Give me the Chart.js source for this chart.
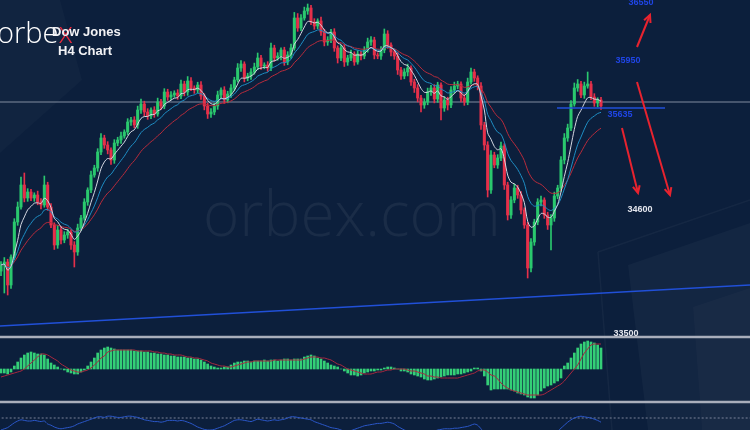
<!DOCTYPE html>
<html>
<head>
<meta charset="utf-8">
<script src="https://cdn.jsdelivr.net/npm/chart.js@4.4.1/dist/chart.umd.min.js"></script>
<style>
  html, body { margin: 0; padding: 0; background: #0c1f3c; overflow: hidden; }
  canvas { display: block; }
</style>
</head>
<body>
<canvas id="grafica" width="750" height="430"></canvas>
<script>
// cierres de cada vela H4
const cierres = [
  34115, 34142, 33935, 34187, 34502, 34637, 34835, 34718, 34772, 34718,
  34745, 34682, 34655, 34835, 34637, 34475, 34295, 34430, 34340, 34385,
  34412, 34295, 34232, 34448, 34538, 34682, 34790, 34925, 34988, 35132,
  35258, 35195, 35150, 35060, 35213, 35240, 35276, 35312, 35402, 35420,
  35375, 35510, 35564, 35492, 35456, 35510, 35474, 35582, 35546, 35672,
  35627, 35645, 35663, 35636, 35744, 35672, 35771, 35708, 35690, 35735,
  35636, 35546, 35474, 35492, 35546, 35645, 35690, 35600, 35654, 35708,
  35780, 35888, 35924, 35798, 35816, 35852, 35897, 35978, 35906, 35915,
  35888, 36068, 35978, 35996, 36050, 35942, 36005, 36068, 36338, 36248,
  36338, 36401, 36428, 36302, 36266, 36311, 36212, 36122, 36140, 36212,
  36068, 35978, 36068, 35942, 35978, 36014, 35942, 36014, 35996, 36050,
  36122, 36140, 36005, 35996, 36050, 36194, 36095, 36032, 35996, 35870,
  35816, 35852, 35888, 35762, 35708, 35618, 35555, 35582, 35672, 35708,
  35609, 35735, 35528, 35600, 35555, 35690, 35726, 35744, 35618, 35582,
  35762, 35852, 35798, 35726, 35375, 35195, 34790, 35105, 35015, 35078,
  35186, 34835, 34565, 34700, 34808, 34745, 34610, 34475, 34088, 34322,
  34502, 34682, 34700, 34565, 34475, 34538, 34736, 34808, 35060, 35258,
  35348, 35564, 35708, 35744, 35645, 35726, 35744, 35627, 35573, 35600,
  35546
];
const primeraApertura = 34060;

// mechas (puntos por encima / por debajo del cuerpo)
const mechaArriba = [
  30, 40, 25, 20, 30, 45, 72, 108, 30, 25,
  20, 35, 30, 81, 25, 30, 20, 40, 25, 30,
  25, 20, 30, 35, 25, 30, 20, 35, 25, 30,
  40, 25, 30, 20, 30, 25, 35, 20, 30, 25,
  30, 35, 45, 25, 30, 20, 30, 35, 25, 30,
  25, 30, 20, 30, 35, 25, 40, 30, 20, 25,
  30, 20, 25, 30, 25, 35, 20, 30, 25, 30,
  25, 40, 30, 20, 25, 30, 35, 45, 25, 20,
  30, 45, 25, 30, 20, 25, 30, 35, 50, 40,
  30, 35, 36, 25, 30, 20, 35, 25, 30, 25,
  30, 20, 25, 30, 25, 35, 20, 30, 25, 30,
  35, 30, 25, 20, 30, 45, 30, 20, 25, 30,
  25, 30, 35, 20, 25, 30, 25, 30, 35, 25,
  30, 25, 20, 30, 25, 30, 35, 25, 20, 30,
  35, 36, 25, 20, 30, 25, 30, 40, 25, 30,
  35, 20, 25, 30, 35, 25, 30, 20, 25, 30,
  25, 30, 35, 20, 25, 30, 35, 25, 30, 40,
  35, 30, 45, 40, 25, 35, 108, 25, 30, 20,
  25
];
const mechaAbajo = [
  40, 252, 90, 30, 25, 30, 20, 35, 30, 25,
  30, 25, 35, 20, 30, 25, 40, 30, 35, 25,
  30, 40, 135, 30, 25, 20, 30, 25, 20, 30,
  25, 30, 35, 40, 30, 25, 30, 20, 25, 30,
  25, 30, 30, 35, 30, 25, 30, 20, 30, 25,
  30, 25, 20, 30, 25, 35, 30, 25, 30, 25,
  30, 35, 40, 30, 25, 30, 25, 30, 25, 30,
  25, 20, 30, 35, 25, 30, 20, 25, 30, 25,
  30, 25, 30, 20, 35, 30, 25, 30, 20, 30,
  25, 20, 30, 25, 30, 25, 30, 35, 30, 25,
  30, 45, 25, 40, 30, 25, 30, 20, 35, 25,
  20, 30, 35, 25, 30, 25, 30, 35, 30, 40,
  30, 25, 35, 30, 40, 35, 63, 30, 25, 30,
  35, 30, 108, 30, 45, 25, 30, 25, 35, 30,
  25, 20, 30, 35, 40, 45, 63, 30, 25, 30,
  25, 40, 45, 30, 25, 30, 35, 30, 90, 36,
  30, 25, 35, 30, 40, 225, 30, 25, 30, 35,
  30, 25, 20, 30, 25, 30, 20, 25, 30, 35,
  30
];

// panel inferior: histograma MACD y su senal
const histMacd = [
  -4, -4, -5, -3, 3, 7, 11, 14, 16, 17,
  16, 15, 15, 14, 10, 6, 4, 2, 0, -1,
  -3, -4, -5, -5, -3, -1, 3, 7, 11, 16,
  19, 21, 22, 21, 20, 19, 19, 19, 19, 19,
  18, 18, 18, 17, 17, 16, 16, 15, 15, 14,
  14, 13, 13, 12, 12, 12, 11, 11, 10, 10,
  9, 7, 5, 3, 2, 1, 1, 2, 2, 4,
  6, 7, 7, 8, 8, 7, 8, 8, 8, 9,
  8, 9, 9, 8, 9, 10, 10, 9, 10, 10,
  10, 12, 13, 14, 13, 11, 10, 8, 6, 4,
  3, 2, 0, -2, -4, -6, -6, -7, -6, -4,
  -3, -2, -2, -1, -1, 1, 2, 2, 1, 0,
  -2, -2, -3, -5, -6, -7, -8, -10, -11, -11,
  -10, -9, -8, -7, -6, -6, -6, -5, -5, -4,
  -3, -2, 1, 1, -2, -7, -16, -21, -20, -20,
  -20, -20, -20, -21, -22, -24, -25, -26, -28, -29,
  -29, -26, -22, -19, -17, -16, -14, -12, -9, 3,
  6, 11, 16, 21, 25, 27, 28, 27, 26, 24,
  21
];
const senalMacd = [
  -8, -7, -6, -5, -4, -3, -2, 0, 3, 6,
  9, 12, 15, 15, 14, 12, 10, 8, 5, 3,
  1, -1, -2, -3, -3, -2, -1, 1, 4, 7,
  11, 13, 17, 18, 19, 19, 19, 19, 19, 19,
  19, 18, 18, 18, 18, 18, 17, 17, 16, 16,
  15, 15, 14, 14, 14, 13, 12, 12, 11, 11,
  10, 9, 8, 6, 5, 4, 3, 3, 2, 2,
  3, 4, 5, 6, 7, 7, 8, 8, 8, 8,
  8, 8, 9, 9, 9, 9, 9, 9, 9, 9,
  9, 10, 11, 12, 12, 12, 11, 11, 10, 9,
  7, 5, 4, 2, 0, -1, -2, -3, -4, -5,
  -5, -5, -4, -3, -3, -2, -1, -1, 0, 0,
  0, 0, -1, -2, -2, -3, -4, -5, -7, -7,
  -8, -8, -9, -9, -9, -9, -9, -9, -8, -7,
  -6, -5, -4, -2, -1, -1, -3, -6, -7, -10,
  -14, -17, -19, -21, -22, -23, -24, -25, -26, -26,
  -26, -26, -26, -25, -23, -21, -19, -17, -15, -12,
  -8, -4, 0, 4, 10, 16, 20, 24, 25, 25,
  25
];

// oscilador RSI, solo asoma la parte alta
const valoresRsi = [
  50, 52, 54, 58, 62, 65, 67, 66, 65, 65,
  66, 65, 64, 65, 60, 58, 55, 53, 52, 53,
  54, 55, 57, 60, 62, 64, 66, 68, 70, 72,
  72, 71, 73, 73, 72, 71, 71, 72, 73, 73,
  72, 71, 69, 67, 66, 65, 64, 64, 63, 64,
  66, 66, 66, 65, 66, 65, 63, 61, 58, 55,
  53, 51, 50, 50, 51, 53, 55, 57, 60, 63,
  66, 67, 67, 66, 65, 64, 66, 68, 67, 66,
  65, 66, 67, 66, 67, 68, 70, 72, 72, 71,
  70, 69, 68, 67, 64, 62, 60, 58, 56, 54,
  53, 52, 50, 48, 48, 49, 51, 53, 55, 57,
  58, 59, 60, 61, 61, 62, 63, 62, 60, 56,
  53, 50, 48, 46, 45, 44, 44, 45, 46, 47,
  48, 50, 51, 52, 52, 52, 53, 53, 54, 55,
  56, 58, 60, 58, 52, 45, 38, 36, 35, 34,
  33, 32, 30, 30, 31, 32, 32, 30, 28, 30,
  33, 36, 38, 38, 40, 42, 45, 48, 53, 58,
  63, 67, 70, 72, 73, 72, 71, 70, 68, 66,
  63
];

// niveles y lineas dibujadas a mano en el original
const nivelHorizontal = 35582;
const nivelAzul = 35528;
const tramoAzul = [166.8, 199.2];
const tendencia = [33566, 33935];
const separadores = [33467, 32882];
const nivelRsi = 70;

const flechas = [
  { desde: [190.8, 36077], hasta: [194.7, 36365] },
  { desde: [190.8, 35762], hasta: [200.7, 34745] },
  { desde: [186.3, 35348], hasta: [191.1, 34763] }
];

const etiquetas = [
  { texto: "36550", x: 192.0, y: 36473, color: "#1f45e6" },
  { texto: "35950", x: 188.1, y: 35951, color: "#1f45e6" },
  { texto: "35635", x: 185.7, y: 35465, color: "#1f45e6" },
  { texto: "34600", x: 191.7, y: 34610, color: "#e4e6ee" },
  { texto: "33500", x: 187.5, y: 33494, color: "#e4e6ee" }
];

const VERDE = "#2ac86e";
const ROJO = "#e5304a";

// velas: apertura = cierre anterior
const aperturas = cierres.map((c, i) => i === 0 ? primeraApertura : cierres[i - 1]);
const altos = cierres.map((c, i) => Math.max(aperturas[i], c) + mechaArriba[i]);
const bajos = cierres.map((c, i) => Math.min(aperturas[i], c) - mechaAbajo[i]);
const colores = cierres.map((c, i) => c >= aperturas[i] ? VERDE : ROJO);

// medias moviles exponenciales sobre los cierres
function ema(valores, periodo) {
  const k = 2 / (periodo + 1);
  let prev = valores[0];
  return valores.map((v, i) => {
    prev = i === 0 ? v : v * k + prev * (1 - k);
    return prev;
  });
}

const mediaBlanca = ema(cierres, 6);
const mediaCian = ema(cierres, 12);
const mediaRoja = ema(cierres, 21);

const xy = (arr) => arr.map((v, i) => ({ x: i, y: v }));

function linea(puntos, color, ancho, orden, extra) {
  return Object.assign({
    type: "line",
    data: puntos,
    borderColor: color,
    borderWidth: ancho,
    pointRadius: 0,
    fill: false,
    order: orden
  }, extra || {});
}

const datasets = [
  linea([{ x: -1, y: separadores[0] }, { x: 226, y: separadores[0] }], "#a9aebb", 2.5, 20),
  linea([{ x: -1, y: separadores[1] }, { x: 226, y: separadores[1] }], "#a9aebb", 2.5, 20),
  linea([{ x: -1, y: nivelRsi }, { x: 226, y: nivelRsi }], "rgba(150,156,175,0.8)", 1, 19, { yAxisID: "y3", borderDash: [2, 2] }),
  {
    type: "bar",
    data: xy(histMacd),
    yAxisID: "y2",
    backgroundColor: "#34cf77",
    barThickness: 2,
    grouped: false,
    order: 18
  },
  linea(xy(senalMacd), "#a8283f", 1, 17, { yAxisID: "y2", tension: 0.3 }),
  linea(xy(valoresRsi), "#2b57c8", 1, 17, { yAxisID: "y3", tension: 0.2 }),
  linea([{ x: -1, y: nivelHorizontal }, { x: 226, y: nivelHorizontal }], "rgba(150,160,178,0.85)", 1, 16),
  {
    type: "bar",
    data: cierres.map((c, i) => ({ x: i, y: [bajos[i], altos[i]] })),
    backgroundColor: colores,
    barThickness: 1,
    grouped: false,
    order: 15
  },
  {
    type: "bar",
    data: cierres.map((c, i) => ({ x: i, y: [aperturas[i], c] })),
    backgroundColor: colores,
    barThickness: 2.4,
    minBarLength: 1,
    grouped: false,
    order: 14
  },
  linea(xy(mediaRoja), "#b92c3c", 1, 13, { tension: 0.3 }),
  linea(xy(mediaCian), "#1f8ec4", 1, 12, { tension: 0.3 }),
  linea(xy(mediaBlanca), "#d5d8e2", 1, 11, { tension: 0.3 }),
  linea([{ x: tramoAzul[0], y: nivelAzul }, { x: tramoAzul[1], y: nivelAzul }], "#2150d8", 1.5, 5),
  linea([{ x: -0.3, y: tendencia[0] }, { x: 224.7, y: tendencia[1] }], "#2150d8", 1.5, 5)
];

flechas.forEach(f => {
  datasets.push(linea([{ x: f.desde[0], y: f.desde[1] }, { x: f.hasta[0], y: f.hasta[1] }], "#e8232f", 2, 1));
});

// fondo con las formas de la marca y marca de agua
const fondo = {
  id: "fondo",
  beforeDatasetsDraw(chart) {
    const c = chart.ctx;
    c.save();
    c.fillStyle = "rgba(255,255,255,0.025)";
    c.beginPath();
    c.moveTo(0, 0); c.lineTo(60, 0); c.lineTo(82, 80); c.lineTo(0, 153); c.closePath();
    c.fill();
    c.strokeStyle = "rgba(255,255,255,0.04)";
    c.lineWidth = 1.5;
    c.beginPath();
    c.moveTo(598, 252); c.lineTo(750, 200);
    c.moveTo(598, 252); c.lineTo(612, 430);
    c.stroke();
    c.fillStyle = "rgba(255,255,255,0.03)";
    c.beginPath();
    c.moveTo(628, 265); c.lineTo(750, 223); c.lineTo(750, 430); c.lineTo(648, 430); c.closePath();
    c.fill();
    c.fillStyle = "rgba(255,255,255,0.025)";
    c.beginPath();
    c.moveTo(693, 307); c.lineTo(750, 288); c.lineTo(750, 430); c.lineTo(702, 430); c.closePath();
    c.fill();
    c.font = "300 62px 'Open Sans', 'Lato', sans-serif";
    c.fillStyle = "rgba(255,255,255,0.06)";
    c.textBaseline = "alphabetic";
    c.fillText("orbex.com", 203, 236);
    c.restore();
  },
  afterDatasetsDraw(chart) {
    const c = chart.ctx;
    const sx = chart.scales.x, sy = chart.scales.y;
    c.save();
    // puntas de flecha
    c.strokeStyle = "#e8232f";
    c.lineWidth = 2;
    flechas.forEach(f => {
      const x0 = sx.getPixelForValue(f.desde[0]), y0 = sy.getPixelForValue(f.desde[1]);
      const x1 = sx.getPixelForValue(f.hasta[0]), y1 = sy.getPixelForValue(f.hasta[1]);
      const ang = Math.atan2(y1 - y0, x1 - x0);
      c.beginPath();
      c.moveTo(x1 - 8 * Math.cos(ang - 0.45), y1 - 8 * Math.sin(ang - 0.45));
      c.lineTo(x1, y1);
      c.lineTo(x1 - 8 * Math.cos(ang + 0.45), y1 - 8 * Math.sin(ang + 0.45));
      c.stroke();
    });
    // etiquetas de niveles
    c.font = "bold 9px 'Liberation Sans', Arial, sans-serif";
    c.textAlign = "center";
    c.textBaseline = "middle";
    etiquetas.forEach(e => {
      c.fillStyle = e.color;
      c.fillText(e.texto, sx.getPixelForValue(e.x), sy.getPixelForValue(e.y));
    });
    // logo y titulo
    c.textAlign = "left";
    c.textBaseline = "alphabetic";
    c.font = "300 29px 'Open Sans', 'Lato', sans-serif";
    c.fillStyle = "#ffffff";
    c.fillText("orbe", -3, 43);
    const w = c.measureText("orbe").width;
    c.fillStyle = "#e8283c";
    c.fillText("x", -3 + w, 43);
    c.font = "bold 13px 'Liberation Sans', Arial, sans-serif";
    c.fillStyle = "#f2f2f5";
    c.fillText("Dow Jones", 52, 36);
    c.fillText("H4 Chart", 58, 55);
    c.restore();
  }
};

new Chart(document.getElementById("grafica").getContext("2d"), {
  type: "bar",
  data: { datasets: datasets },
  options: {
    responsive: false,
    animation: false,
    devicePixelRatio: 1,
    events: [],
    layout: { padding: 0 },
    plugins: { legend: { display: false }, tooltip: { enabled: false } },
    scales: {
      x: { type: "linear", min: -0.3, max: 224.7, display: false, offset: false },
      y: { min: 32630, max: 36500, display: false },
      y2: { min: -61, max: 369, display: false },
      y3: { min: 50, max: 766.7, display: false }
    }
  },
  plugins: [fondo]
});
</script>
</body>
</html>
